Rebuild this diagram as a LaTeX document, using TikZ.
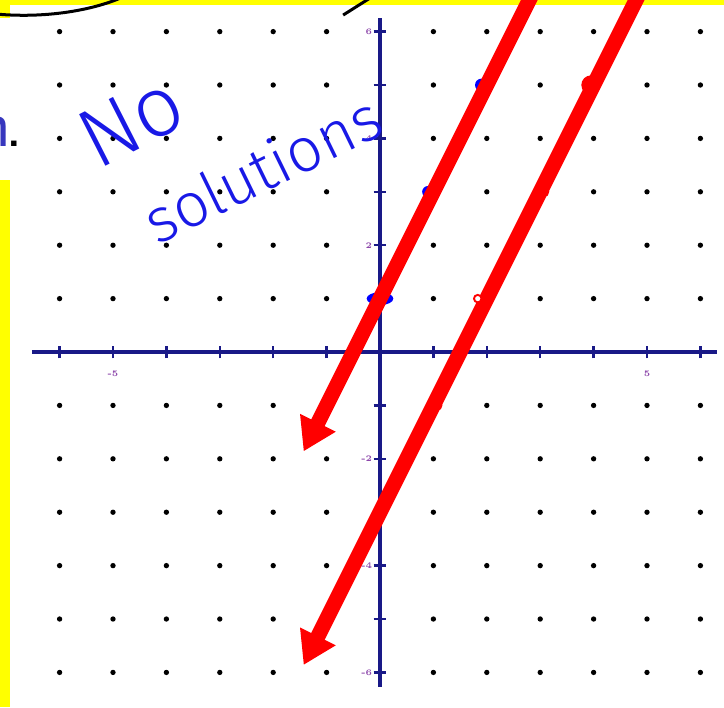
\documentclass[tikz,border=0pt]{standalone}
\usepackage{fontspec}
\usepackage{xcolor}
\usepackage{tikz}
\usetikzlibrary{arrows.meta,positioning}
\newfontfamily\handfont{Fira Sans Light}
\definecolor{axisblue}{RGB}{25,25,135}
\definecolor{inkblue}{RGB}{25,25,230}
\definecolor{ticklabel}{RGB}{140,70,170}
\definecolor{hiyellow}{RGB}{255,255,0}
\definecolor{printblue}{RGB}{55,55,190}

\begin{document}
\begin{tikzpicture}[>={Triangle[length=17pt,width=20pt]},
  axisline/.style={axisblue, line width=2.2pt},
  tickmark/.style={axisblue, line width=1.3pt},
  ticklbl/.style={font=\fontsize{4.5}{5}\selectfont\bfseries, text=ticklabel, inner sep=0pt},
  redline/.style={->, red, line width=8pt},
  ink/.style={text=inkblue, inner sep=0pt}]
  \useasboundingbox (-7.116,-6.648) rectangle (6.442,6.592);
  % highlighter and pen marks from the page
  \fill[hiyellow] (-7.116,6.498) rectangle (6.442,6.592);
  \fill[hiyellow] (-7.116,6.255) rectangle (-6.929,6.592);
  \fill[hiyellow] (-7.116,-6.648) rectangle (-6.929,3.22);
  \draw[line width=1.6pt] (-7.3,6.34) .. controls (-6.4,6.24) and (-5.4,6.36) .. (-4.7,6.7);
  \draw[line width=1.6pt] (-0.69,6.31) -- (-0.2,6.62);
  \node[anchor=base east, font=\sffamily\fontsize{36}{36}\selectfont, inner sep=0pt] (part) at (-6.667,3.84) {\textcolor{printblue}{n}\kern-3pt.};
  % dot grid
  \foreach \x in {-6,...,6}
    \foreach \y in {-6,...,6} {
      \ifnum\x=0 \else \ifnum\y=0 \else
        \fill (\x,\y) circle (0.05);
      \fi\fi
    }
  % axes
  \draw[axisline] (-6.52,0) -- (6.31,0);
  \draw[axisline] (0,-6.27) -- (0,6.25);
  \foreach \t in {-6,...,6} {
    \draw[tickmark] (\t,-0.12) -- (\t,0.12);
    \draw[tickmark] (-0.12,\t) -- (0.12,\t);
  }
  \node[ticklbl] (xm5) at (-5,-0.4) {-5};
  \node[ticklbl] (xp5) at (5,-0.4) {5};
  \foreach \t in {6,4,2,-2,-4,-6}
    \node[ticklbl, anchor=east] (y\t) at (-0.14,\t) {\t};
  % points of y=2x+1
  \fill[blue] (1.9,5) circle (0.12);
  \fill[blue] (0.9,3) circle (0.11);
  \fill[blue] (0,1) ellipse (0.25 and 0.12);
  % the two lines
  \coordinate (l1top) at (2.9,6.8);
  \coordinate (l1tip) at (-1.43,-1.86);
  \coordinate (l2top) at (4.9,6.8);
  \coordinate (l2tip) at (-1.43,-5.86);
  \draw[redline] (l1top) -- (l1tip);
  \draw[redline] (l2top) -- (l2tip);
  % points of y=2x-3
  \fill[red] (3.95,5) circle (0.18);
  \fill[red] (0,-3) circle (0.13);
  \fill[red] (3.07,3) circle (0.1);
  \fill[red] (1.07,-1) circle (0.1);
  \draw[red, fill=white, line width=1pt] (1.83,1) circle (0.07);
  % handwriting
  \node[ink, rotate=27, font=\handfont\fontsize{45}{45}\selectfont] (no) at (-4.66,4.32) {No};
  \node[ink, rotate=26, anchor=base, font=\handfont\fontsize{33}{33}\selectfont] (sol) at (-2.02,3.05) {solutions};
\end{tikzpicture}
\end{document}
